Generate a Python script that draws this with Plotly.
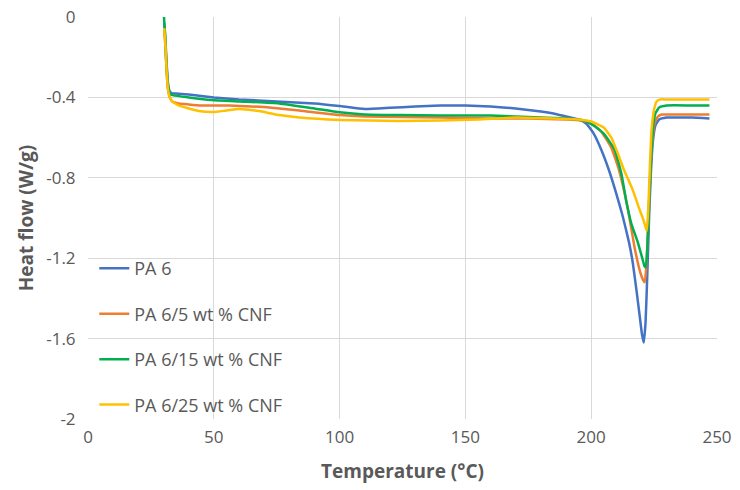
import plotly.graph_objects as go

series_names = ["PA 6", "PA 6/5 wt % CNF", "PA 6/15 wt % CNF", "PA 6/25 wt % CNF"]
series_colors = ["#4472C4", "#ED7D31", "#00B050", "#FFC000"]

pa6_x = [30.3, 30.8, 31.3, 31.8, 32.5, 33.5, 35, 40, 50, 60, 75, 90, 100, 110, 120, 130, 140, 150, 160, 170,
         180, 185, 190, 195, 198, 201, 204, 207, 210, 212.5, 215, 216.5, 218, 219.2, 220.2, 220.9, 221.6, 222.3,
         223, 223.7, 224.5, 225.5, 227, 230, 235, 240, 247]
pa6_y = [-0.03, -0.12, -0.24, -0.33, -0.37, -0.38, -0.38, -0.385, -0.40, -0.41, -0.42, -0.43, -0.443, -0.458,
         -0.452, -0.445, -0.44, -0.44, -0.445, -0.455, -0.47, -0.48, -0.495, -0.51, -0.53, -0.58, -0.66, -0.76,
         -0.88, -0.99, -1.12, -1.22, -1.36, -1.48, -1.58, -1.62, -1.52, -1.28, -1.0, -0.78, -0.62, -0.54, -0.51,
         -0.5, -0.5, -0.5, -0.505]

cnf5_x = [30.3, 30.8, 31.3, 31.8, 32.5, 33.5, 36, 40, 45, 56, 65, 72, 84, 100, 110, 124, 140, 160, 175, 190,
          196, 200, 204, 208, 211, 214.5, 217.3, 219.5, 220.7, 221.3, 222, 222.8, 223.5, 224.3, 225.2, 226.5,
          228, 232, 240, 247]
cnf5_y = [-0.05, -0.15, -0.28, -0.36, -0.40, -0.42, -0.43, -0.435, -0.44, -0.44, -0.445, -0.45, -0.465, -0.488,
          -0.495, -0.497, -0.50, -0.505, -0.505, -0.51, -0.515, -0.53, -0.57, -0.65, -0.76, -0.95, -1.15, -1.27,
          -1.31, -1.32, -1.22, -1.0, -0.78, -0.62, -0.53, -0.495, -0.485, -0.485, -0.485, -0.485]

cnf15_x = [30.2, 30.6, 31.0, 31.5, 32, 32.8, 34, 40, 49, 60, 76, 90, 100, 110, 124, 140, 160, 180, 190, 197,
           201, 205, 209.3, 212, 214, 216, 218.5, 220.3, 221.2, 221.7, 222.3, 223, 223.8, 224.6, 225.5, 227,
           230, 240, 247]
cnf15_y = [0.0, -0.08, -0.2, -0.3, -0.36, -0.385, -0.39, -0.40, -0.413, -0.42, -0.43, -0.455, -0.474, -0.485,
           -0.488, -0.49, -0.49, -0.50, -0.505, -0.515, -0.54, -0.58, -0.66, -0.78, -0.92, -1.03, -1.12, -1.2,
           -1.24, -1.245, -1.15, -0.92, -0.7, -0.55, -0.48, -0.45, -0.44, -0.44, -0.44]

cnf25_x = [30.3, 30.8, 31.3, 31.8, 32.5, 33.5, 36, 40, 44, 50, 55, 60, 64, 68, 76, 84, 100, 124, 140, 155,
           170, 185, 195, 200, 205, 208, 210, 213, 216.5, 219, 220.5, 221.5, 222.1, 222.7, 223.3, 224, 225, 226,
           227.5, 230, 240, 247]
cnf25_y = [-0.055, -0.15, -0.28, -0.36, -0.40, -0.42, -0.44, -0.455, -0.468, -0.473, -0.465, -0.458, -0.462,
           -0.468, -0.488, -0.50, -0.512, -0.517, -0.515, -0.51, -0.50, -0.505, -0.51, -0.52, -0.55, -0.6, -0.66,
           -0.76, -0.86, -0.95, -1.0, -1.04, -1.065, -0.95, -0.75, -0.56, -0.46, -0.42, -0.41, -0.41, -0.41, -0.41]

x_ticks = [0, 50, 100, 150, 200, 250]
y_ticks = [0, -0.4, -0.8, -1.2, -1.6, -2]
y_tick_labels = ["0", "-0.4", "-0.8", "-1.2", "-1.6", "-2"]

xs = [pa6_x, cnf5_x, cnf15_x, cnf25_x]
ys = [pa6_y, cnf5_y, cnf15_y, cnf25_y]

fig = go.Figure()
for i, (name, col, x, y) in enumerate(zip(series_names, series_colors, xs, ys)):
    fig.add_trace(go.Scatter(x=x, y=y, mode="lines", name=name, legendgroup=f"g{i}",
                             line=dict(color=col, width=2.5, shape="spline", smoothing=0.4)))

font_family = "Open Sans, Liberation Sans, sans-serif"
fig.update_layout(
    width=740, height=490,
    margin=dict(l=88, r=23, t=17, b=71),
    paper_bgcolor="white", plot_bgcolor="white",
    font=dict(family=font_family, color="#595959", size=16),
    showlegend=True,
    legend=dict(x=0.01, y=0.42, xanchor="left", yanchor="top", bgcolor="rgba(0,0,0,0)",
                font=dict(size=18, color="#595959"), tracegroupgap=19, itemwidth=30),
    xaxis=dict(range=[0, 250], tickvals=x_ticks, showgrid=True, gridcolor="#D9D9D9", gridwidth=1,
               zeroline=False, showline=False, ticks="outside", ticklen=3, tickcolor="rgba(0,0,0,0)",
               automargin=False, tickfont=dict(size=17),
               title=dict(text="<b>Temperature (°C)</b>", font=dict(size=19, color="#595959"), standoff=17)),
    yaxis=dict(range=[-2, 0], tickvals=y_ticks, ticktext=y_tick_labels, showgrid=True, gridcolor="#D9D9D9",
               gridwidth=1, zeroline=False, showline=False, ticks="outside", ticklen=8, tickcolor="rgba(0,0,0,0)",
               automargin=False, tickfont=dict(size=17),
               title=dict(text="<b>Heat flow (W/g)</b>", font=dict(size=19, color="#595959"), standoff=7)),
)

fig.write_html("out.html", config={"displayModeBar": False},
               post_script="document.body.style.margin='0';")
